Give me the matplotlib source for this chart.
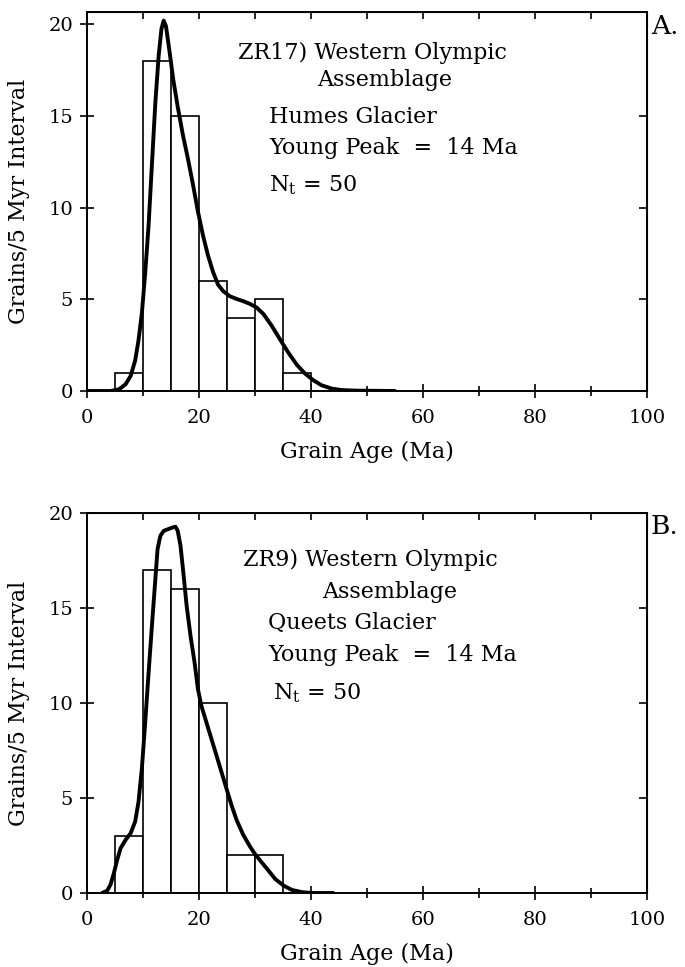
import numpy as np
import matplotlib
matplotlib.use("Agg")
import matplotlib.pyplot as plt

plt.rcParams['font.family'] = ['DejaVu Serif']

# histogram bins (left edges, 5 Myr wide) and counts
bin_left = [5, 10, 15, 20, 25, 30, 35]
counts_a = [1, 18, 15, 6, 4, 5, 1]
counts_b = [3, 17, 16, 10, 2, 2, 0]

# probability density curves
curve_a_x = [0, 4.2, 5.7, 6.9, 7.8, 8.6, 9.2, 9.8, 10.4, 11.0, 11.6, 12.2, 12.8, 13.3,
             13.7, 14.1, 14.7, 15.4, 16.2, 17.1, 18.0, 18.9, 19.8, 20.7, 21.6, 22.5,
             23.4, 24.3, 25.5, 26.7, 27.9, 29.1, 30.3, 31.5, 33.0, 34.5, 36.0, 37.5,
             38.9, 40.4, 41.9, 43.7, 45.5, 47.9, 55.0]
curve_a_y = [0, 0, 0.09, 0.37, 0.83, 1.66, 2.77, 4.25, 6.46, 9.05, 12.4, 15.7, 18.3, 19.76,
             20.2, 19.9, 18.6, 16.99, 15.5, 14.0, 12.7, 11.3, 9.8, 8.5, 7.4, 6.5,
             5.8, 5.45, 5.17, 5.02, 4.9, 4.75, 4.55, 4.2, 3.55, 2.8, 2.07, 1.42,
             0.96, 0.59, 0.31, 0.13, 0.05, 0.02, 0]

curve_b_x = [2.7, 3.6, 4.2, 4.8, 5.4, 6.0, 6.9, 7.8, 8.6, 9.2, 9.8, 10.4, 11.0, 11.6,
             12.2, 12.6, 13.1, 13.7, 14.4, 15.2, 15.8, 16.2, 16.7, 17.2, 17.8, 18.5,
             19.2, 19.8, 20.4, 21.3, 22.2, 23.1, 24.0, 24.9, 25.8, 26.7, 27.9, 29.1,
             30.0, 31.2, 32.4, 33.6, 35.1, 36.6, 38.5, 40.3, 44.0]
curve_b_y = [0, 0.12, 0.44, 1.05, 1.75, 2.36, 2.8, 3.15, 3.76, 4.8, 6.56, 9.0, 11.6, 14.1,
             16.5, 18.1, 18.8, 19.06, 19.14, 19.23, 19.28, 19.06, 18.27, 16.87, 15.1, 13.5,
             12.15, 10.75, 9.88, 9.0, 8.13, 7.26, 6.38, 5.5, 4.63, 3.85, 3.06, 2.45,
             2.05, 1.61, 1.18, 0.74, 0.39, 0.16, 0.04, 0, 0]

labels_a = ["ZR17) Western Olympic", "Assemblage", "Humes Glacier",
            "Young Peak  =  14 Ma", r"N$_\mathregular{t}$ = 50"]
labels_b = ["ZR9) Western Olympic", "Assemblage", "Queets Glacier",
            "Young Peak  =  14 Ma", r"N$_\mathregular{t}$ = 50"]

W, H = 685, 967
fig = plt.figure(figsize=(W / 100, H / 100), dpi=100)


def panel(top, bottom, ymax, counts, cx, cy, labels, label_pos, letter, letter_y):
    ax = fig.add_axes([87 / W, 1 - bottom / H, (647 - 87) / W, (bottom - top) / H])
    ax.bar(bin_left, counts, width=5, align='edge', facecolor='white',
           edgecolor='black', linewidth=1.2, zorder=2)
    ax.plot(cx, cy, color='black', linewidth=2.8, zorder=3,
            solid_capstyle='round', solid_joinstyle='round')
    ax.set_xlim(0, 100)
    ax.set_ylim(0, ymax)
    ax.set_xticks([0, 20, 40, 60, 80, 100])
    ax.set_xticks([10, 30, 50, 70, 90], minor=True)
    ax.set_yticks([0, 5, 10, 15, 20])
    ax.tick_params(axis='both', which='major', direction='inout', length=10,
                   width=1.2, labelsize=14)
    ax.tick_params(axis='x', which='major', pad=8)
    ax.tick_params(axis='y', which='major', pad=5)
    ax.tick_params(axis='x', which='minor', direction='inout', length=7, width=1.2)
    for s in ax.spines.values():
        s.set_linewidth(1.4)

    sx = ax.secondary_xaxis('top')
    sx.set_xticks([10, 20, 30, 40, 50, 60, 70, 80, 90])
    sx.tick_params(direction='in', length=5, width=1.2, labeltop=False)
    sy = ax.secondary_yaxis('right')
    sy.set_yticks([5, 10, 15])
    sy.tick_params(direction='in', length=6, width=1.2, labelright=False)

    ax.set_xlabel("Grain Age (Ma)", fontsize=16, labelpad=10)
    ax.set_ylabel("Grains/5 Myr Interval", fontsize=16, labelpad=13)

    for txt, (px, py) in zip(labels, label_pos):
        fig.text(px / W, 1 - py / H, txt, fontsize=16, va='center', ha='left')
    fig.text(651 / W, 1 - letter_y / H, letter, fontsize=19, va='center', ha='left')
    return ax


panel(12, 391, 20.67, counts_a, curve_a_x, curve_a_y, labels_a,
      [(238, 53), (317, 80), (269, 117), (269, 148), (269, 185)], "A.", 26)
panel(513, 893, 20, counts_b, curve_b_x, curve_b_y, labels_b,
      [(243, 560), (322, 592), (268, 623), (268, 655), (273, 693)], "B.", 526)

fig.savefig("out.png", dpi=100)
